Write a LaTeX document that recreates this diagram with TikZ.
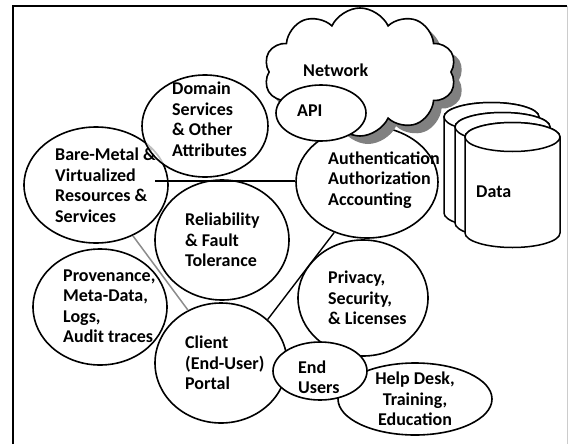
\documentclass[tikz,border=0pt]{standalone}
\usepackage{fontspec}
\setmainfont{Carlito}
\usetikzlibrary{shapes.geometric,shapes.symbols}

\tikzset{
  bubble/.style={ellipse,draw=black,fill=white,line width=1.6pt,inner sep=0pt},
  bubbletext/.style={font=\bfseries\fontsize{18}{20.5}\selectfont,
                     align=left,anchor=west,inner sep=0pt},
  puffy/.style={cloud,cloud puffs=10,cloud puff arc=130,cloud ignores aspect,
                minimum width=192pt,minimum height=128pt,inner sep=0pt},
  drumline/.style={draw=black,fill=white,line width=1.5pt},
  link/.style={line width=1.4pt,draw=black},
  greylink/.style={line width=1.5pt,draw=gray!90}
}

\begin{document}
\begin{tikzpicture}[x=1pt,y=-1pt]
  \path[use as bounding box] (0,0) rectangle (569,444);
  % page frame
  \draw[line width=2pt] (13,444) -- (13,6) -- (567,6);
  \draw[gray!40,line width=0.8pt] (567,6) -- (567,444);

  % left column of services
  \node[bubble,minimum width=144pt,minimum height=116pt] (bare) at (96,185) {};
  \node[bubbletext] (baretxt) at (55,185) {Bare-Metal \&\\Virtualized\\Resources \&\\Services};
  \node[bubble,fill opacity=0.75,minimum width=126pt,minimum height=102pt] (domain) at (205,126) {};
  \node[bubbletext] (domaintxt) at (172,119) {Domain\\Services\\\& Other\\Attributes};
  \node[bubble,minimum width=134pt,minimum height=120pt] (rel) at (222,240) {};
  \node[bubbletext] (reltxt) at (185,240) {Reliability\\\& Fault\\Tolerance};
  \node[bubble,minimum width=134pt,minimum height=116pt] (prov) at (100,307) {};
  \node[bubbletext] (provtxt) at (63,306) {Provenance,\\Meta-Data,\\Logs,\\Audit traces};
  \node[bubble,minimum width=132pt,minimum height=120pt] (client) at (221,363) {};
  \node[bubbletext] (clienttxt) at (185,363) {Client\\(End-User)\\Portal};

  % right column
  \node[bubble,minimum width=142pt,minimum height=112pt] (auth) at (367,182) {};
  \node[bubbletext] (authtxt) at (328,180) {Authentication\\Authorization\\Accounting};

  % network cloud with its grey shade behind
  \node[puffy,fill=gray] (netshade) at (368,80) {};
  \node[puffy,draw=black,fill=white,line width=1.6pt] (net) at (360,72) {};
  \node[bubbletext] (nettxt) at (303,70) {Network};
  \node[bubble,minimum width=90pt,minimum height=56pt] (api) at (321,113) {};
  \node[bubbletext] (apitxt) at (297,111) {API};

  \node[bubble,minimum width=130pt,minimum height=116pt] (priv) at (363,298) {};
  \node[bubbletext] (privtxt) at (328,298) {Privacy,\\Security,\\\& Licenses};
  \node[bubble,minimum width=154pt,minimum height=72pt] (help) at (415,399) {};
  \node[bubbletext,anchor=center,align=center] (helptxt) at (415,399) {Help Desk,\\Training,\\Education};
  \node[bubble,minimum width=94pt,minimum height=58pt] (users) at (320,371) {};
  \node[bubbletext] (userstxt) at (298,377) {End\\Users};

  % data store: three stacked drums, back one first
  \foreach \dx/\dy in {-21/-20,-10/-10,0/0} {
    \draw[drumline] ({465+\dx},{137+\dy}) -- ({465+\dx},{233+\dy})
      arc[start angle=180,end angle=0,x radius=47.5,y radius=14.5]
      -- ({560+\dx},{137+\dy})
      arc[start angle=0,end angle=-180,x radius=47.5,y radius=14.5] -- cycle;
    \draw[drumline] ({512.5+\dx},{137+\dy}) ellipse[x radius=47.5,y radius=14.5];
  }
  \node[bubbletext] (datatxt) at (476,192) {Data};

  % connectors
  \coordinate (busL) at (155,181);
  \draw[link] (busL) -- (busL -| auth.west);
  \draw[greylink] (bare.306) -- (client.122);
  \draw[link] (client.43) -- (auth.237);
\end{tikzpicture}
\end{document}
